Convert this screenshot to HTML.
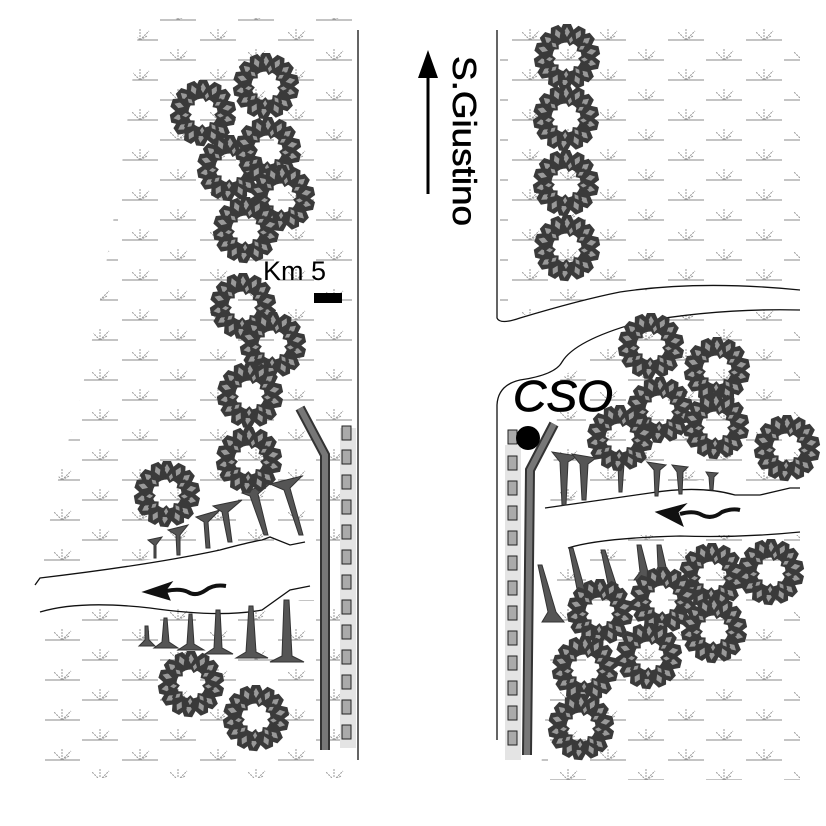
<!DOCTYPE html>
<html><head><meta charset="utf-8"><style>
html,body{margin:0;padding:0;background:#fff;width:826px;height:826px;overflow:hidden}
</style></head><body>
<svg width="826" height="826" viewBox="0 0 826 826" xmlns="http://www.w3.org/2000/svg">
<defs>
<g id="m" stroke="#888" stroke-width="1" fill="none">
<line x1="0" y1="16" x2="36" y2="16"/>
<path d="M18 16 L18 5 M18 16 L10 8 M18 16 L27 7 M18 16 L25 12" stroke="#999" stroke-dasharray="2 1"/>
</g>
<pattern id="marsh" width="78" height="40" patternUnits="userSpaceOnUse" x="4" y="4">
<use href="#m" x="0" y="0"/>
<use href="#m" x="40" y="20"/>
</pattern>
<g id="leaf"><path d="M0 -16 L8 -24 L4 -33 L-4 -33 L-8 -24 Z" fill="#3a3a3a"/><path d="M0 -20 L3 -25 L0 -30 L-3 -25 Z" fill="#999"/></g>
<g id="tree">
<circle r="20" fill="none" stroke="#3a3a3a" stroke-width="11"/>
<use href="#leaf"/><use href="#leaf" transform="rotate(27)"/><use href="#leaf" transform="rotate(50)"/><use href="#leaf" transform="rotate(78)"/><use href="#leaf" transform="rotate(104)"/><use href="#leaf" transform="rotate(133)"/><use href="#leaf" transform="rotate(156)"/><use href="#leaf" transform="rotate(185)"/><use href="#leaf" transform="rotate(208)"/><use href="#leaf" transform="rotate(236)"/><use href="#leaf" transform="rotate(260)"/><use href="#leaf" transform="rotate(288)"/><use href="#leaf" transform="rotate(312)"/><use href="#leaf" transform="rotate(338)"/>
<g transform="scale(0.7) rotate(13)"><use href="#leaf"/><use href="#leaf" transform="rotate(45)"/><use href="#leaf" transform="rotate(85)"/><use href="#leaf" transform="rotate(130)"/><use href="#leaf" transform="rotate(170)"/><use href="#leaf" transform="rotate(215)"/><use href="#leaf" transform="rotate(250)"/><use href="#leaf" transform="rotate(300)"/></g>
</g>
<rect id="bx" width="9" height="14" fill="#aaa" stroke="#222" stroke-width="1"/>
</defs>

<polygon points="140,18 355,18 355,540 300,545 260,540 200,555 40,570 60,470 80,400 100,300 120,180" fill="url(#marsh)"/>
<polygon points="45,610 120,605 250,612 300,600 355,600 355,778 45,778" fill="url(#marsh)"/>
<polygon points="500,25 800,25 800,290 660,288 560,305 500,322" fill="url(#marsh)"/>
<polygon points="560,380 600,345 680,315 800,308 800,490 700,480 620,490 550,505" fill="url(#marsh)"/>
<polygon points="560,545 640,535 800,535 800,780 540,780" fill="url(#marsh)"/>

<g fill="none" stroke="#111" stroke-width="1.3">
<line x1="358" y1="30" x2="358" y2="760"/>
<path d="M497 30 L497 318 Q500 325 520 318 Q580 300 620 292 Q700 280 800 290"/>
<path d="M497 740 L497 405 Q498 385 520 380 Q555 375 562 362 Q575 340 640 322 Q720 308 800 310"/>
<path d="M35 585 L40 578 Q150 565 220 550 Q250 542 262 540 L270 537 L290 545 L305 542"/>
<path d="M40 612 Q80 600 150 608 Q220 618 262 610 L290 590 L310 586"/>
<path d="M545 508 Q600 500 650 493 Q700 485 735 495 L760 495 L790 488 L800 488"/>
<path d="M568 548 Q600 538 680 536 Q740 538 800 532"/>
</g>

<rect x="340" y="428" width="16" height="320" fill="#e4e4e4"/>
<g>
<use href="#bx" x="342" y="426"/><use href="#bx" x="342" y="450"/><use href="#bx" x="342" y="475"/><use href="#bx" x="342" y="500"/><use href="#bx" x="342" y="525"/><use href="#bx" x="342" y="550"/><use href="#bx" x="342" y="575"/><use href="#bx" x="342" y="600"/><use href="#bx" x="342" y="625"/><use href="#bx" x="342" y="650"/><use href="#bx" x="342" y="675"/><use href="#bx" x="342" y="700"/><use href="#bx" x="342" y="725"/>
</g>
<rect x="505" y="445" width="16" height="315" fill="#e4e4e4"/>
<g>
<use href="#bx" x="508" y="430"/><use href="#bx" x="508" y="456"/><use href="#bx" x="508" y="481"/><use href="#bx" x="508" y="506"/><use href="#bx" x="508" y="531"/><use href="#bx" x="508" y="556"/><use href="#bx" x="508" y="581"/><use href="#bx" x="508" y="606"/><use href="#bx" x="508" y="631"/><use href="#bx" x="508" y="656"/><use href="#bx" x="508" y="681"/><use href="#bx" x="508" y="706"/><use href="#bx" x="508" y="731"/>
</g>

<g fill="none" stroke-linejoin="miter">
<path d="M300 408 L325 455 L325 750" stroke="#333" stroke-width="10"/>
<path d="M300 408 L325 455 L325 750" stroke="#777" stroke-width="6"/>
<path d="M554 424 L530 470 L527 755" stroke="#333" stroke-width="10"/>
<path d="M554 424 L530 470 L527 755" stroke="#777" stroke-width="6"/>
</g>

<g fill="#555" stroke="#333" stroke-width="1">
<polygon points="148,540 162,537 156,545 156,558 154,558 154,545"/>
<polygon points="168,530 188,525 180,535 180,555 177,555 176,535"/>
<polygon points="196,517 220,510 208,522 210,548 206,548 204,522"/>
<polygon points="213,506 242,500 228,512 232,542 228,542 222,512"/>
<polygon points="242,493 272,482 258,494 268,535 264,535 250,496"/>
<polygon points="270,484 302,476 290,488 303,535 299,535 284,490"/>
<polygon points="145,626 148,626 149,640 155,646 139,646 145,640"/>
<polygon points="164,618 167,618 169,642 178,648 154,648 162,642"/>
<polygon points="189,614 192,614 194,644 204,650 178,650 187,644"/>
<polygon points="216,610 220,610 222,648 233,654 205,654 214,648"/>
<polygon points="249,606 253,606 256,652 268,658 236,658 246,652"/>
<polygon points="284,600 289,600 292,656 304,662 270,662 282,656"/>
<polygon points="552,452 578,456 568,462 566,505 562,505 560,462"/>
<polygon points="572,454 596,458 588,464 586,500 582,500 580,464"/>
<polygon points="612,455 632,458 624,464 622,492 619,492 618,464"/>
<polygon points="647,462 666,465 660,470 658,496 655,496 654,470"/>
<polygon points="672,465 688,467 683,472 682,494 679,494 677,472"/>
<polygon points="706,472 718,473 714,477 713,490 710,490 709,477"/>
<polygon points="538,565 542,565 556,612 564,622 542,622 548,612"/>
<polygon points="569,548 573,548 586,594 592,604 570,604 578,594"/>
<polygon points="601,550 605,550 616,584 622,592 602,592 608,584"/>
<polygon points="637,545 641,545 648,572 654,580 634,580 640,572"/>
<polygon points="657,545 661,545 666,567 672,575 654,575 658,567"/>
</g>

<g>
<use href="#tree" x="203" y="113"/><use href="#tree" x="266" y="86"/><use href="#tree" x="230" y="168"/><use href="#tree" x="268" y="150"/><use href="#tree" x="282" y="198"/><use href="#tree" x="246" y="230"/>
<use href="#tree" x="243" y="306"/><use href="#tree" x="273" y="345"/><use href="#tree" x="250" y="395"/><use href="#tree" x="249" y="460"/><use href="#tree" x="167" y="494"/>
<use href="#tree" x="191" y="684"/><use href="#tree" x="256" y="718"/>
<use href="#tree" x="567" y="57"/><use href="#tree" x="566" y="118"/><use href="#tree" x="566" y="183"/><use href="#tree" x="567" y="248"/>
<use href="#tree" x="651" y="346"/><use href="#tree" x="717" y="370"/><use href="#tree" x="660" y="410"/><use href="#tree" x="716" y="426"/><use href="#tree" x="620" y="438"/><use href="#tree" x="787" y="448"/>
<use href="#tree" x="712" y="576"/><use href="#tree" x="771" y="572"/><use href="#tree" x="600" y="612"/><use href="#tree" x="663" y="600"/><use href="#tree" x="714" y="630"/><use href="#tree" x="585" y="669"/><use href="#tree" x="649" y="656"/><use href="#tree" x="581" y="727"/>
</g>

<g fill="#111" stroke="#111">
<polygon points="143,592 172,582 166,590 170,600" />
<path d="M166 591 Q180 588 188 592 Q196 597 206 590 Q214 584 226 586" fill="none" stroke-width="4"/>
<polygon points="656,512 686,504 678,512 683,526"/>
<path d="M680 514 Q694 510 702 515 Q712 520 722 512 Q732 508 740 510" fill="none" stroke-width="4"/>
</g>

<line x1="428" y1="72" x2="428" y2="194" stroke="#000" stroke-width="3"/>
<polygon points="428,50 418,78 438,78" fill="#000"/>
<text transform="translate(453,56) rotate(90)" font-family="Liberation Sans, sans-serif" font-size="33" fill="#000" textLength="170" lengthAdjust="spacingAndGlyphs" stroke="#000" stroke-width="0.6">S.Giustino</text>

<text x="263" y="280" font-family="Liberation Sans, sans-serif" font-size="27" fill="#000">Km 5</text>
<rect x="314" y="293" width="28" height="10" fill="#000"/>

<text x="513" y="411" font-family="Liberation Sans, sans-serif" font-size="44" font-style="italic" fill="#000" stroke="#000" stroke-width="0.8" textLength="100" lengthAdjust="spacingAndGlyphs">CSO</text>
<circle cx="528" cy="438" r="12" fill="#000"/>
</svg>
</body></html>
